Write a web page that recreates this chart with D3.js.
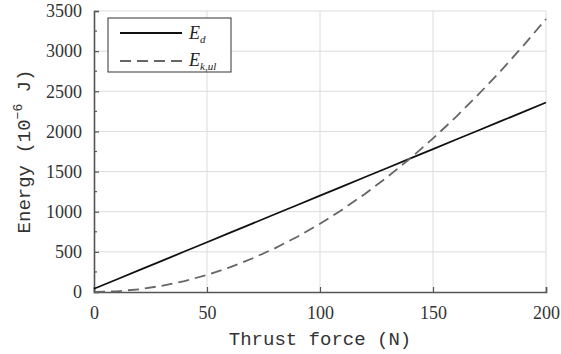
<!DOCTYPE html>
<html>
<head>
<meta charset="utf-8">
<script src="https://cdn.jsdelivr.net/npm/d3@7"></script>
<style>
  body { margin: 0; background: #fff; }
  svg { display: block; }
  .tick text { font-family: "Liberation Serif", serif; font-size: 18px; fill: #333; }
</style>
</head>
<body>
<div id="chart"></div>
<script>
// values
var force = [0, 10, 20, 30, 40, 50, 60, 70, 80, 90, 100, 110, 120, 130, 140, 150, 160, 170, 180, 190, 200];
var energyD = [40, 156, 272, 388, 504, 620, 736, 852, 968, 1084, 1200, 1316, 1432, 1548, 1664, 1780, 1896, 2012, 2128, 2244, 2360];
var energyK = [0, 9, 34, 77, 136, 213, 306, 417, 544, 689, 850, 1029, 1224, 1437, 1666, 1913, 2176, 2457, 2754, 3069, 3400];
var xTicks = [0, 50, 100, 150, 200];
var yTicks = [0, 500, 1000, 1500, 2000, 2500, 3000, 3500];
var yMinor = [250, 750, 1250, 1750, 2250, 2750, 3250];

var W = 561, H = 354;
var margin = { top: 11, right: 15, bottom: 62, left: 94 },
    width = W - margin.left - margin.right,
    height = H - margin.top - margin.bottom;

var serif = "Liberation Serif, serif";
var mono = "Liberation Mono, DejaVu Sans Mono, monospace";

var svg = d3.select("#chart").append("svg")
    .attr("width", W).attr("height", H);

var g = svg.append("g")
    .attr("transform", "translate(" + margin.left + "," + margin.top + ")");

var x = d3.scaleLinear().domain([0, 200]).range([0, width]);
var y = d3.scaleLinear().domain([0, 3500]).range([height, 0]);

// grid
g.append("g").selectAll("line").data(xTicks.slice(1)).enter().append("line")
    .attr("x1", d => x(d)).attr("x2", d => x(d))
    .attr("y1", 0).attr("y2", height)
    .style("stroke", "#dcdcdc").style("stroke-width", 1);
g.append("g").selectAll("line").data(yTicks.slice(1)).enter().append("line")
    .attr("x1", 0).attr("x2", width)
    .attr("y1", d => y(d)).attr("y2", d => y(d))
    .style("stroke", "#dcdcdc").style("stroke-width", 1);

// axes (ticks pointing inward)
var xAxis = g.append("g")
    .attr("transform", "translate(0," + height + ")")
    .call(d3.axisBottom(x).tickValues(xTicks).tickFormat(d3.format("d")).tickSize(-5).tickPadding(14));
var yAxis = g.append("g")
    .call(d3.axisLeft(y).tickValues(yTicks).tickFormat(d3.format("d")).tickSize(-5).tickPadding(12));
g.append("g").selectAll("line").data(yMinor).enter().append("line")
    .attr("x1", 0).attr("x2", 3)
    .attr("y1", d => y(d)).attr("y2", d => y(d))
    .style("stroke", "#555").style("stroke-width", 1.2);

[xAxis, yAxis].forEach(function (a) {
    a.attr("font-family", serif).attr("font-size", 18);
    a.select(".domain").style("stroke", "#555").style("stroke-width", 1.6);
    a.selectAll(".tick line").style("stroke", "#555").style("stroke-width", 1.2);
});

// lines
var line = function (ys) {
    return d3.line().x((d, i) => x(force[i])).y(d => y(d))(ys);
};
g.append("path").attr("d", line(energyD))
    .style("fill", "none").style("stroke", "#111").style("stroke-width", 1.8);
g.append("path").attr("d", line(energyK))
    .style("fill", "none").style("stroke", "#666").style("stroke-width", 1.8)
    .style("stroke-dasharray", "11,6");

// legend
var leg = svg.append("g");
leg.append("rect")
    .attr("x", 108).attr("y", 18).attr("width", 123).attr("height", 54)
    .style("fill", "#fff").style("stroke", "#333").style("stroke-width", 1);
leg.append("line").attr("x1", 120).attr("x2", 182).attr("y1", 33).attr("y2", 33)
    .style("stroke", "#111").style("stroke-width", 1.8);
leg.append("line").attr("x1", 120).attr("x2", 182).attr("y1", 61).attr("y2", 61)
    .style("stroke", "#666").style("stroke-width", 1.8).style("stroke-dasharray", "11,6");

var t1 = leg.append("text").attr("x", 189).attr("y", 39)
    .attr("font-family", serif).attr("font-size", 18).attr("font-style", "italic").style("fill", "#222");
t1.append("tspan").text("E");
t1.append("tspan").attr("dy", 4).attr("font-size", 11).text("d");
var t2 = leg.append("text").attr("x", 189).attr("y", 66)
    .attr("font-family", serif).attr("font-size", 18).attr("font-style", "italic").style("fill", "#222");
t2.append("tspan").text("E");
t2.append("tspan").attr("dy", 4).attr("font-size", 11).text("k,ul");

// axis titles
svg.append("text")
    .attr("x", margin.left + width / 2).attr("y", 345)
    .attr("text-anchor", "middle")
    .attr("font-family", mono).attr("font-size", 19).style("fill", "#333")
    .text("Thrust force (N)");

var yt = svg.append("text")
    .attr("transform", "translate(30," + (margin.top + height / 2) + ") rotate(-90)")
    .attr("text-anchor", "middle")
    .attr("font-family", mono).attr("font-size", 19).style("fill", "#333");
yt.append("tspan").text("Energy (10");
yt.append("tspan").attr("dy", -8).attr("font-size", 13).text("\u22126");
yt.append("tspan").attr("dy", 8).text(" J)");
</script>
</body>
</html>
